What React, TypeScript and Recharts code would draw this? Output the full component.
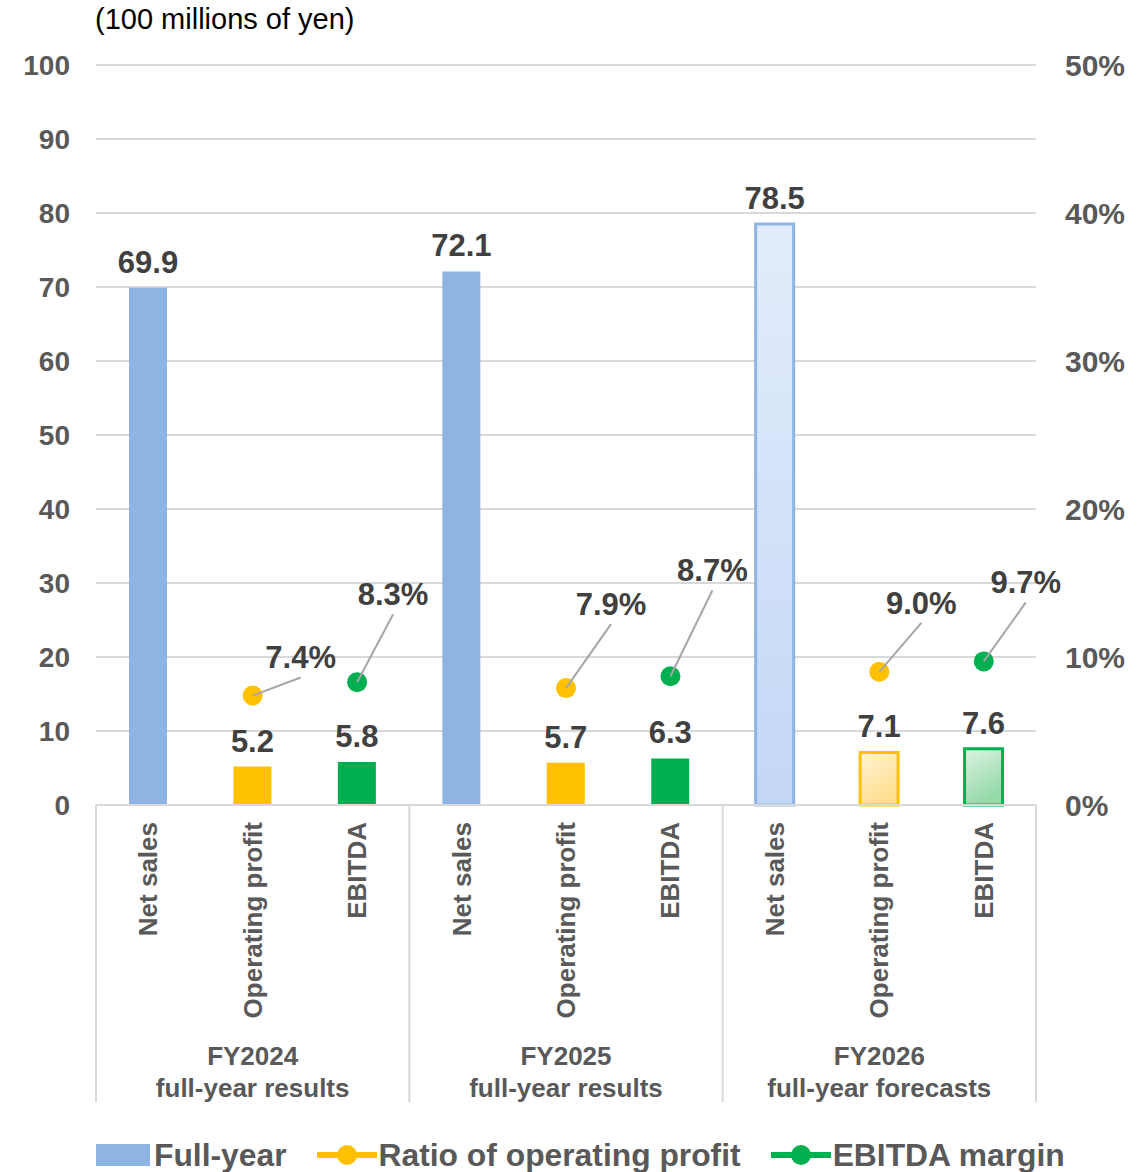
import { ComposedChart, Bar, Line, XAxis, YAxis, CartesianGrid, Cell, LabelList } from 'recharts';

const CATEGORIES = ['Net sales', 'Operating profit', 'EBITDA', 'Net sales', 'Operating profit', 'EBITDA', 'Net sales', 'Operating profit', 'EBITDA'];
const GROUP_LABELS = [
  ['FY2024', 'full-year results'],
  ['FY2025', 'full-year results'],
  ['FY2026', 'full-year forecasts'],
];
const VALUES = [69.9, 5.2, 5.8, 72.1, 5.7, 6.3, 78.5, 7.1, 7.6];
const OP_RATIO = [null, 7.4, null, null, 7.9, null, null, 9.0, null];
const EBITDA_MARGIN = [null, null, 8.3, null, null, 8.7, null, null, 9.7];
const FORECAST = [false, false, false, false, false, false, true, true, true];
const LEFT_TICKS = [0, 10, 20, 30, 40, 50, 60, 70, 80, 90, 100];
const RIGHT_TICKS = [0, 10, 20, 30, 40, 50];

// leader line end, relative to the dot
const RATIO_LABEL_OFFSET: Record<number, [number, number]> = { 1: [48, -18], 4: [45, -64], 7: [42, -49] };
const MARGIN_LABEL_OFFSET: Record<number, [number, number]> = { 2: [36, -68], 5: [42, -86], 8: [42, -59] };

const BLUE = '#8EB4E3';
const YELLOW = '#FFC000';
const GREEN = '#00B050';
const BAR_COLORS = [BLUE, YELLOW, GREEN];
const GRAD_IDS = ['gBlue', 'gYellow', 'gGreen'];
const FONT = '"Liberation Sans", Arial, sans-serif';
const TICK_MARGIN = 17;

const data = CATEGORIES.map((c, i) => ({
  key: `c${i}`,
  name: c,
  value: VALUES[i],
  ratio: OP_RATIO[i],
  margin: EBITDA_MARGIN[i],
}));

function CategoryTick(props: any) {
  const { x, y, payload, index } = props;
  const half = payload?.offset || 52.2;
  const axisY = y - TICK_MARGIN;
  const group = GROUP_LABELS[Math.floor(index / 3)];
  return (
    <g>
      {index % 3 === 0 && <line x1={x - half} x2={x - half} y1={axisY} y2={axisY + 297} stroke="#D9D9D9" strokeWidth={2} />}
      {index === CATEGORIES.length - 1 && <line x1={x + half} x2={x + half} y1={axisY} y2={axisY + 297} stroke="#D9D9D9" strokeWidth={2} />}
      <text transform={`translate(${x},${y}) rotate(-90)`} textAnchor="end" dominantBaseline="central"
        fontFamily={FONT} fontWeight="bold" fontSize={26} fill="#595959">{CATEGORIES[index]}</text>
      {index % 3 === 1 && (
        <text x={x} textAnchor="middle" fontFamily={FONT} fontWeight="bold" fontSize={26} fill="#595959">
          <tspan x={x} y={axisY + 260}>{group[0]}</tspan>
          <tspan x={x} y={axisY + 292}>{group[1]}</tspan>
        </text>
      )}
    </g>
  );
}

function makePctLabel(offsets: Record<number, [number, number]>) {
  return (p: any) => {
    const { x, y, value, index } = p;
    if (value == null || !offsets[index]) return null;
    const [dx, dy] = offsets[index];
    return (
      <g>
        <line x1={x} y1={y} x2={x + dx} y2={y + dy} stroke="#A6A6A6" strokeWidth={2} />
        <text x={x + dx} y={y + dy - 9} textAnchor="middle" fontFamily={FONT} fontWeight="bold" fontSize={31} fill="#404040">
          {`${value.toFixed(1)}%`}
        </text>
      </g>
    );
  };
}

function BarValueLabel(p: any) {
  const { x, y, width, value } = p;
  return (
    <text x={x + width / 2} y={y - 15} textAnchor="middle" fontFamily={FONT} fontWeight="bold" fontSize={31} fill="#404040">
      {value.toFixed(1)}
    </text>
  );
}

function LegendMarker({ color }: { color: string }) {
  return (
    <svg width={60} height={24} style={{ marginRight: 2 }}>
      <line x1={1} x2={59} y1={12} y2={12} stroke={color} strokeWidth={6} strokeLinecap="round" />
      <circle cx={30} cy={12} r={10} fill={color} />
    </svg>
  );
}

export default function App() {
  return (
    <div style={{ position: 'absolute', left: 0, top: 0, width: 1140, height: 1172, background: '#fff', fontFamily: FONT }}>
      <div style={{ position: 'absolute', left: 95, top: 3, fontSize: 29, color: '#000', fontFamily: FONT, whiteSpace: 'nowrap' }}>
        (100 millions of yen)
      </div>
      <ComposedChart width={1140} height={1172} data={data} margin={{ top: 65, right: 0, bottom: 62, left: 0 }} barSize={38}>
        <defs>
          <linearGradient id="gBlue" x1="0" y1="0" x2="0" y2="1">
            <stop offset="0%" stopColor="#E3ECFB" />
            <stop offset="100%" stopColor="#C3D7F5" />
          </linearGradient>
          <linearGradient id="gYellow" x1="0" y1="0" x2="0.4" y2="1">
            <stop offset="0%" stopColor="#FFF3D6" />
            <stop offset="100%" stopColor="#FFDF8F" />
          </linearGradient>
          <linearGradient id="gGreen" x1="0" y1="0" x2="0.4" y2="1">
            <stop offset="0%" stopColor="#DDF3E3" />
            <stop offset="100%" stopColor="#94D9A8" />
          </linearGradient>
        </defs>
        <CartesianGrid vertical={false} stroke="#D9D9D9" strokeWidth={2} yAxisId="left" />
        <XAxis dataKey="key" interval={0} height={305} tickLine={false} tickSize={0} tickMargin={TICK_MARGIN}
          axisLine={{ stroke: '#D9D9D9', strokeWidth: 2 }} tick={<CategoryTick />} />
        <YAxis yAxisId="left" width={96} domain={[0, 100]} ticks={LEFT_TICKS} axisLine={false} tickLine={false}
          tickSize={0} tickMargin={26} tick={{ fontFamily: FONT, fontWeight: 'bold', fontSize: 28, fill: '#595959' }} />
        <YAxis yAxisId="right" orientation="right" width={104} domain={[0, 50]} ticks={RIGHT_TICKS} axisLine={false}
          tickLine={false} tickSize={0} tickMargin={29} tickFormatter={(v: number) => `${v}%`}
          tick={{ fontFamily: FONT, fontWeight: 'bold', fontSize: 30, fill: '#595959', textAnchor: 'start' }} />
        <Bar yAxisId="left" dataKey="value" isAnimationActive={false}>
          {data.map((d, i) => (
            <Cell key={d.key}
              fill={FORECAST[i] ? `url(#${GRAD_IDS[i % 3]})` : BAR_COLORS[i % 3]}
              stroke={FORECAST[i] ? BAR_COLORS[i % 3] : 'none'}
              strokeWidth={FORECAST[i] ? 3 : 0} />
          ))}
          <LabelList dataKey="value" content={<BarValueLabel />} />
        </Bar>
        <Line yAxisId="right" dataKey="ratio" stroke="none" isAnimationActive={false} connectNulls={false}
          dot={{ r: 10, fill: YELLOW, stroke: 'none' }} activeDot={false} label={makePctLabel(RATIO_LABEL_OFFSET)} />
        <Line yAxisId="right" dataKey="margin" stroke="none" isAnimationActive={false} connectNulls={false}
          dot={{ r: 10, fill: GREEN, stroke: 'none' }} activeDot={false} label={makePctLabel(MARGIN_LABEL_OFFSET)} />
      </ComposedChart>
      <div style={{ position: 'absolute', left: 96, top: 1136, display: 'flex', alignItems: 'center', fontSize: 31.8, fontWeight: 'bold', color: '#595959', whiteSpace: 'nowrap', lineHeight: '38px' }}>
        <span style={{ display: 'inline-block', width: 54, height: 22, background: BLUE, marginRight: 4 }} />
        <span style={{ marginRight: 30 }}>Full-year</span>
        <LegendMarker color={YELLOW} />
        <span style={{ marginRight: 30 }}>Ratio of operating profit</span>
        <LegendMarker color={GREEN} />
        <span>EBITDA margin</span>
      </div>
    </div>
  );
}
